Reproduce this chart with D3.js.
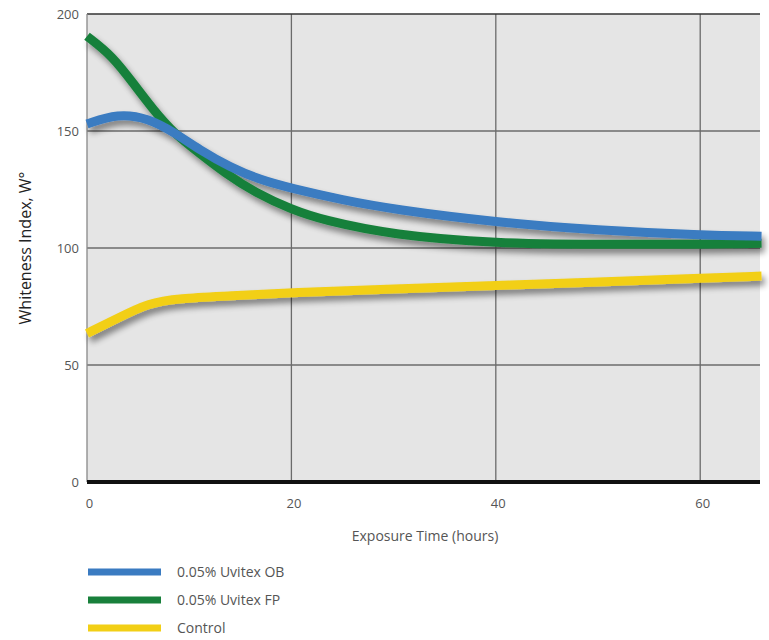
<!DOCTYPE html>
<html><head><meta charset="utf-8">
<script src="https://cdn.jsdelivr.net/npm/d3@7"></script>
<style>body{margin:0;background:#fff;font-family:"Open Sans",sans-serif;}</style>
</head><body><svg id="c" width="769" height="640"></svg>
<script>
const seriesNames = ["0.05% Uvitex OB", "0.05% Uvitex FP", "Control"];
const seriesColors = ["#3a7bc1", "#18803b", "#f2cf16"];
const hoursOB = [0, 3, 6, 8.5, 11, 14, 17, 20, 25, 30, 40, 50, 60, 66];
const valuesOB = [153, 157.5, 155.5, 149.5, 142, 134.5, 129, 125.5, 120.5, 116.5, 111, 107.5, 105.5, 105];
const hoursFP = [0, 2.5, 4.5, 6.5, 8.5, 11, 13.5, 16.5, 20, 23, 30, 40, 50, 60, 66];
const valuesFP = [190.5, 182, 170.5, 159, 149, 140.5, 132, 123.5, 116.5, 112, 105.5, 102, 101.5, 101.5, 102];
const hoursCtrl = [0, 3, 6, 9, 14, 20, 30, 40, 50, 60, 66];
const valuesCtrl = [63.5, 70, 76.5, 78.5, 79.5, 81, 82.5, 84, 85.5, 87, 88];
const xTicks = [0, 20, 40, 60];
const yTicks = [0, 50, 100, 150, 200];

const svg = d3.select("#c");
const L = 87, R = 760, T = 14, B = 482;
const x = d3.scaleLinear().domain([0, 65.85]).range([L, R]);
const y = d3.scaleLinear().domain([0, 200]).range([B, T]);

const defs = svg.append("defs");
const f = defs.append("filter").attr("id","sh").attr("x","-10%").attr("y","-20%").attr("width","120%").attr("height","160%");
f.append("feGaussianBlur").attr("in","SourceAlpha").attr("stdDeviation",3).attr("result","b");
f.append("feOffset").attr("in","b").attr("dx",3).attr("dy",5).attr("result","o");
f.append("feComponentTransfer").attr("in","o").attr("result","o2").append("feFuncA").attr("type","linear").attr("slope",0.45);
const m = f.append("feMerge"); m.append("feMergeNode").attr("in","o2"); m.append("feMergeNode").attr("in","SourceGraphic");

svg.append("rect").attr("x",L).attr("y",T).attr("width",R-L).attr("height",B-T).attr("fill","#e5e5e5");

svg.append("g").selectAll("line").data(yTicks.filter(v=>v>0&&v<200)).join("line")
  .attr("x1",L).attr("x2",R).attr("y1",d=>y(d)).attr("y2",d=>y(d)).attr("stroke","#6b6b6b").attr("stroke-width",1.3);
svg.append("g").selectAll("line").data(xTicks.filter(v=>v>0)).join("line")
  .attr("y1",T).attr("y2",B).attr("x1",d=>x(d)).attr("x2",d=>x(d)).attr("stroke","#6b6b6b").attr("stroke-width",1.3);
svg.append("line").attr("x1",L).attr("x2",R).attr("y1",T).attr("y2",T).attr("stroke","#333").attr("stroke-width",1.5);
svg.append("line").attr("x1",L).attr("x2",L).attr("y1",T).attr("y2",B).attr("stroke","#888").attr("stroke-width",1.3);

const yAxis = svg.append("g").attr("transform",`translate(${L-8},0)`)
  .call(d3.axisLeft(y).tickValues(yTicks).tickSize(0).tickPadding(0));
yAxis.select(".domain").remove();
yAxis.selectAll("text").attr("font-family","Open Sans, sans-serif").attr("font-size",13).attr("fill","#555");
const xAxis = svg.append("g").attr("transform",`translate(2,${B+17})`)
  .call(d3.axisBottom(x).tickValues(xTicks).tickSize(0).tickPadding(0));
xAxis.select(".domain").remove();
xAxis.selectAll("text").attr("font-family","Open Sans, sans-serif").attr("font-size",13).attr("fill","#555");

svg.append("line").attr("x1",L).attr("x2",R).attr("y1",B).attr("y2",B).attr("stroke","#111").attr("stroke-width",4);

const line = d3.line().x(d=>x(d[0])).y(d=>y(d[1])).curve(d3.curveBasis);
const data = [
  d3.zip(hoursCtrl, valuesCtrl),
  d3.zip(hoursFP, valuesFP),
  d3.zip(hoursOB, valuesOB)
];
const cols = [seriesColors[2], seriesColors[1], seriesColors[0]];
const lg = svg.append("g").attr("filter","url(#sh)");
data.forEach((d,i)=>{
  lg.append("path").attr("d",line(d)).attr("fill","none").attr("stroke",cols[i]).attr("stroke-width",9);
});

svg.append("text").attr("x",425).attr("y",541).attr("text-anchor","middle")
  .attr("font-family","Open Sans, sans-serif").attr("font-size",14).attr("fill","#555").text("Exposure Time (hours)");
svg.append("text").attr("transform","translate(31,248) rotate(-90)").attr("text-anchor","middle")
  .attr("font-family","Open Sans, sans-serif").attr("font-size",16).attr("fill","#222").text("Whiteness Index, W°");

const legY = [572, 600, 628];
seriesNames.forEach((n,i)=>{
  svg.append("line").attr("x1",88).attr("x2",161).attr("y1",legY[i]).attr("y2",legY[i]).attr("stroke",seriesColors[i]).attr("stroke-width",7);
  svg.append("text").attr("x",177).attr("y",legY[i]+5).attr("font-family","Open Sans, sans-serif").attr("font-size",14).attr("fill","#555").text(n);
});
</script></body></html>
